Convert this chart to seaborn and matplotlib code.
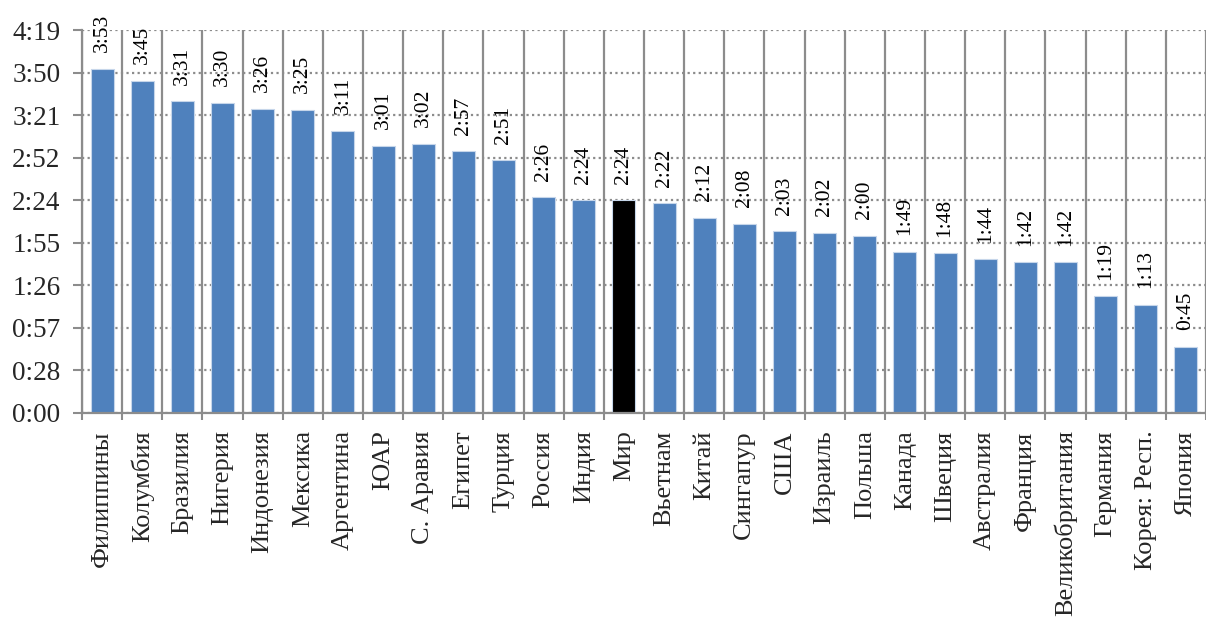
import numpy as np
import matplotlib
matplotlib.use("Agg")
import matplotlib.pyplot as plt
from matplotlib.ticker import FixedLocator, FuncFormatter
import seaborn as sns

# данные: время в минутах (ч:мм на подписях)
countries = ["Филиппины", "Колумбия", "Бразилия", "Нигерия", "Индонезия", "Мексика",
             "Аргентина", "ЮАР", "С. Аравия", "Египет", "Турция", "Россия", "Индия",
             "Мир", "Вьетнам", "Китай", "Сингапур", "США", "Израиль", "Польша",
             "Канада", "Швеция", "Австралия", "Франция", "Великобритания",
             "Германия", "Корея: Респ.", "Япония"]
minutes = [233, 225, 211, 210, 206, 205, 191, 181, 182, 177, 171, 146, 144,
           144, 142, 132, 128, 123, 122, 120, 109, 108, 104, 102, 102, 79, 73, 45]
highlight = "Мир"
tick_step = 28.8   # 0.02 суток, как в Excel
n_ticks = 10

def hmm(v):
    v = int(np.floor(v + 1e-9))
    return f"{v // 60}:{v % 60:02d}"

sns.set_style("white")
plt.rcParams["font.family"] = "serif"
plt.rcParams["font.serif"] = ["Liberation Serif", "DejaVu Serif"]

fig = plt.figure(figsize=(12.06, 6.17), dpi=100)
ax = fig.add_axes([82 / 1206, 1 - 413 / 617, 1 - 82 / 1206, (413 - 30) / 617])

palette = {c: ("#000000" if c == highlight else "#4F81BD") for c in countries}
sns.barplot(x=countries, y=minutes, hue=countries, palette=palette, legend=False,
            width=0.57, edgecolor="#C6D6EA", linewidth=0.8, saturation=1, ax=ax)

for cont in ax.containers:
    ax.bar_label(cont, labels=[hmm(b.get_height()) for b in cont], rotation=90,
                 padding=12, fontsize=15.5, color="black")

ax.set_ylim(0, tick_step * (n_ticks - 1))
ax.set_xlim(-0.5, len(countries) - 0.7)
ax.yaxis.set_major_locator(FixedLocator([tick_step * i for i in range(n_ticks)]))
ax.yaxis.set_major_formatter(FuncFormatter(lambda v, p: hmm(v)))

ax.set_xticks(range(len(countries)))
ax.set_xticklabels(countries, rotation=90, fontsize=19)
ax.set_xticks(np.arange(len(countries) + 1) - 0.5, minor=True)
ax.tick_params(axis="x", which="major", length=0, pad=12.5)
ax.tick_params(axis="x", which="minor", length=5, width=1.5, color="#8C8C8C", direction="out", bottom=True)
ax.tick_params(axis="y", labelsize=19.5, length=6.5, width=1.5, color="#8C8C8C",
               direction="out", pad=9, left=True)

ax.set_axisbelow(True)
ax.grid(axis="y", which="major", color="#8C8C8C", linestyle=(0, (1, 1.5)), linewidth=1.6)
ax.grid(axis="x", which="minor", color="#8C8C8C", linestyle="-", linewidth=1.6)
ax.grid(axis="x", which="major", visible=False)

for side in ["top", "right"]:
    ax.spines[side].set_visible(False)
for side in ["left", "bottom"]:
    ax.spines[side].set_color("#8C8C8C")
    ax.spines[side].set_linewidth(1.6)

fig.savefig("out.png", dpi=100)
